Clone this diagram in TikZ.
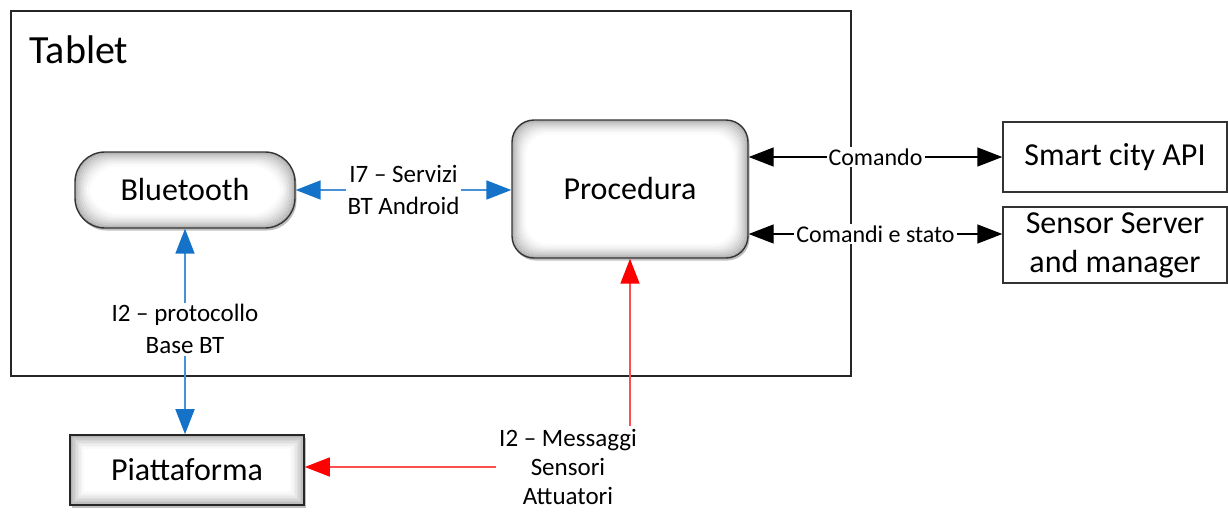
\documentclass[tikz,border=0pt]{standalone}
\usepackage{fontspec}
\setmainfont{Carlito}
\usetikzlibrary{arrows.meta,shadows}
\definecolor{bblue}{RGB}{20,115,200}
\definecolor{bline}{RGB}{70,145,215}
\definecolor{rline}{RGB}{255,80,80}
\tikzset{
  big/.style={font=\fontsize{32}{38}\selectfont},
  small/.style={font=\fontsize{25}{32}\selectfont},
  bevel/.style={path picture={
    \foreach \i/\o in {1/60,2.5/50,4/41,5.5/33,7/26,8.5/19,10/13,11.5/8,13/4}{
      \draw[line width=2pt, gray!\o, rounded corners=#1]
        ([shift={(\i pt,-\i pt)}]path picture bounding box.north west)
        rectangle ([shift={(-\i pt,\i pt)}]path picture bounding box.south east);}
  }},
  roundbox/.style={draw=black!80, line width=1.4pt, fill=white, rounded corners=#1, big,
    bevel=#1, drop shadow={shadow xshift=1.5pt, shadow yshift=-2.5pt, opacity=0.5}},
  plainbox/.style={draw=black!80, line width=1.4pt, fill=white, big, align=center},
  tipb/.style={Triangle[length=25pt,width=19pt,color=bblue]},
  bluearrow/.style={draw=bline, line width=1.8pt, {Triangle[length=25pt,width=19pt,color=bblue]}-{Triangle[length=25pt,width=19pt,color=bblue]}},
  blackarrow/.style={draw=black, line width=1.4pt, {Triangle[length=25pt,width=19pt]}-{Triangle[length=25pt,width=19pt]}},
  redarrow/.style={draw=rline, line width=1.6pt, -{Triangle[length=25pt,width=19pt,color=red]}},
  lbl/.style={small, fill=white, align=center, inner sep=2pt}
}
\begin{document}
\begin{tikzpicture}[x=1pt,y=-1pt]
\useasboundingbox (0,0) rectangle (1228,512);
\node[draw=black!85, line width=1.6pt, minimum width=840pt, minimum height=365pt, anchor=north west, inner sep=0pt] (tablet) at (10,10) {};
\node[anchor=west, font=\fontsize{40}{46}\selectfont] (tlabel) at (26,50) {Tablet};

\node[roundbox=30pt, minimum width=220pt, minimum height=76pt] (bt) at (185,190) {Bluetooth};
\node[roundbox=22pt, minimum width=236pt, minimum height=138pt] (proc) at (630,189) {Procedura};
\node[plainbox, minimum width=224pt, minimum height=70pt] (api) at (1115,157) {Smart city API};
\node[plainbox, minimum width=224pt, minimum height=76pt, font=\fontsize{32}{39}\selectfont] (ss) at (1115,245) {Sensor Server\\and manager};
\node[draw=black!85, line width=1.6pt, fill=white, big, minimum width=234pt, minimum height=70pt,
  bevel=0pt, drop shadow={shadow xshift=2pt, shadow yshift=-3pt, opacity=0.5}] (pf) at (187,470) {Piattaforma};

% blue connectors
\draw[bluearrow] (bt.east) -- (proc.west |- bt.east)
  node[lbl, midway] {I7 -- Servizi\\BT Android};
\draw[bluearrow] (bt.south) -- (pf.north -| bt.south)
  node[lbl, pos=0.49] {I2 -- protocollo\\Base BT};

% black connectors
\draw[blackarrow] (proc.east |- api.west) -- (api.west)
  node[lbl, midway, font=\fontsize{24}{30}\selectfont] {Comando};
\coordinate (ssin) at ([yshift=11pt]ss.west);
\draw[blackarrow] (proc.east |- ssin) -- (ssin)
  node[lbl, midway, font=\fontsize{24}{30}\selectfont] {Comandi e stato};

% red connectors
\node[small, align=center, font=\fontsize{25}{29}\selectfont] (msg) at (568,467) {I2 -- Messaggi\\Sensori\\Attuatori};
\draw[redarrow] (proc.south |- msg.north) -- (proc.south);
\draw[redarrow] (msg.west) -- (pf.east |- msg.west);
\end{tikzpicture}
\end{document}
